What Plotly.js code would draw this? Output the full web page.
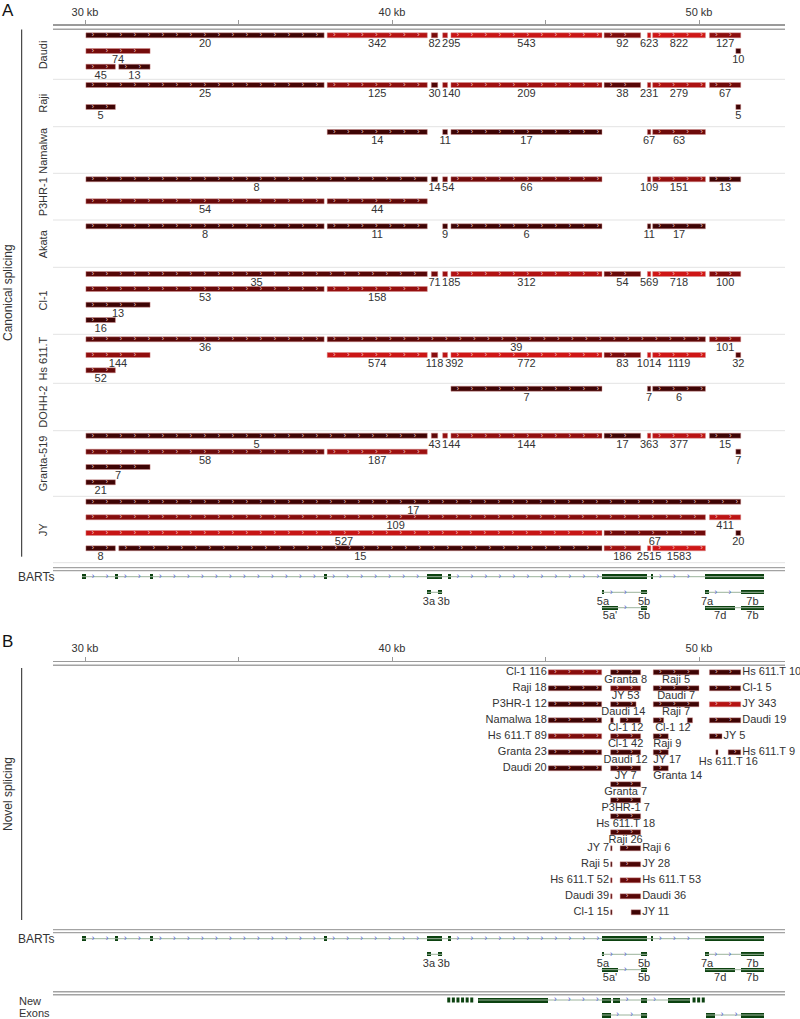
<!DOCTYPE html>
<html>
<head>
<meta charset="utf-8">
<script src="https://cdn.plot.ly/plotly-3.0.1.min.js"></script>
<style>html,body{margin:0;padding:0;background:#fff}#chart{width:800px;height:1019px}</style>
</head>
<body>
<div id="chart"></div>
<script>
// ================= DATA =================
const cellLines = ["Daudi","Raji","Namalwa","P3HR-1","Akata","Cl-1","Hs 611.T","DOHH-2","Granta-519","JY"];

// canonical junctions: [start kb, end kb, read count, sub-track]
const daudi = [[30.03,37.79,20,0],[37.89,41.15,342,0],[41.28,41.49,82,0],[41.65,41.81,295,0],[41.92,46.84,543,0],[46.91,48.10,92,0],[48.32,48.43,623,0],[48.49,50.21,822,0],[50.34,51.36,127,0],
  [30.03,32.12,74,1],[51.20,51.36,10,1],[30.03,30.99,45,2],[31.10,32.12,13,2]];
const raji = [[30.03,37.79,25,0],[37.89,41.15,125,0],[41.28,41.49,30,0],[41.65,41.81,140,0],[41.92,46.84,209,0],[46.91,48.10,38,0],[48.32,48.43,231,0],[48.49,50.21,279,0],[50.34,51.36,67,0],
  [30.03,30.99,5,1],[51.20,51.36,5,1]];
const namalwa = [[37.89,41.15,14,0],[41.65,41.81,11,0],[41.92,46.84,17,0],[48.32,48.43,67,0],[48.49,50.21,63,0]];
const p3hr1 = [[30.03,41.15,8,0],[41.28,41.49,14,0],[41.65,41.81,54,0],[41.92,46.84,66,0],[48.32,48.43,109,0],[48.49,50.21,151,0],[50.34,51.36,13,0],
  [30.03,37.79,54,1],[37.89,41.15,44,1]];
const akata = [[30.03,37.79,8,0],[37.89,41.15,11,0],[41.65,41.81,9,0],[41.92,46.84,6,0],[48.32,48.43,11,0],[48.49,50.21,17,0]];
const cl1 = [[30.03,41.15,35,0],[41.28,41.49,71,0],[41.65,41.81,185,0],[41.92,46.84,312,0],[46.91,48.10,54,0],[48.32,48.43,569,0],[48.49,50.21,718,0],[50.34,51.36,100,0],
  [30.03,37.79,53,1],[37.89,41.15,158,1],[30.03,32.12,13,2],[30.03,30.99,16,3]];
const hs611t = [[30.03,37.79,36,0],[37.89,50.21,39,0],[50.34,51.36,101,0],
  [30.03,32.12,144,1],[37.89,41.15,574,1],[41.28,41.49,118,1],[41.65,41.81,392,1],[41.92,46.84,772,1],[46.91,48.10,83,1],[48.32,48.43,1014,1],[48.49,50.21,1119,1],[51.20,51.36,32,1],
  [30.03,30.99,52,2]];
const dohh2 = [[41.92,46.84,7,0],[48.32,48.43,7,0],[48.49,50.21,6,0]];
const granta519 = [[30.03,41.15,5,0],[41.28,41.49,43,0],[41.65,41.81,144,0],[41.92,46.84,144,0],[46.91,48.10,17,0],[48.32,48.43,363,0],[48.49,50.21,377,0],[50.34,51.36,15,0],
  [30.03,37.79,58,1],[37.89,41.15,187,1],[51.20,51.36,7,1],[30.03,32.12,7,2],[30.03,30.99,21,3]];
const jy = [[30.03,51.36,17,0],[30.03,50.21,109,1],[50.34,51.36,411,1],[30.03,46.84,527,2],[46.91,50.21,67,2],[51.20,51.36,20,2],
  [30.03,30.99,8,3],[31.10,46.84,15,3],[46.91,48.10,186,3],[48.32,48.43,2515,3],[48.49,50.21,1583,3]];
const canonical = [daudi, raji, namalwa, p3hr1, akata, cl1, hs611t, dohh2, granta519, jy];

// novel junctions: [start kb, end kb, row, cell line, count, label side]
const novelJunctions = [
  [45.09,46.83,0,"Cl-1",116,"left"],[47.12,48.10,0,"Granta",8,"below"],[48.51,50.00,0,"Raji",5,"below"],[50.34,51.36,0,"Hs 611.T",10,"right"],
  [45.09,46.83,1,"Raji",18,"left"],[47.12,48.10,1,"JY",53,"below"],[48.51,50.00,1,"Daudi",7,"below"],[50.34,51.36,1,"Cl-1",5,"right"],
  [45.09,46.83,2,"P3HR-1",12,"left"],[47.12,47.95,2,"Daudi",14,"below"],[48.51,50.00,2,"Raji",7,"below"],[50.34,51.36,2,"JY",343,"right"],
  [45.09,46.83,3,"Namalwa",18,"left"],[47.12,47.21,3,"Cl-1",12,"below"],[47.43,48.10,3,"Cl-1",12,"cont"],[48.51,48.85,3,"Cl-1",12,"below"],[49.62,49.79,3,"Cl-1",12,"cont"],[50.34,51.36,3,"Daudi",19,"right"],
  [45.09,46.83,4,"Hs 611.T",89,"left"],[47.12,48.10,4,"Cl-1",42,"below"],[48.51,49.00,4,"Raji",9,"belowstart"],[50.34,50.75,4,"JY",5,"right"],
  [45.09,46.83,5,"Granta",23,"left"],[47.12,48.10,5,"Daudi",12,"below"],[48.51,49.00,5,"JY",17,"belowstart"],[50.55,50.62,5,"Hs 611.T",16,"belowspan"],[50.95,51.36,5,"Hs 611.T",9,"right"],
  [45.09,46.83,6,"Daudi",20,"left"],[47.12,48.10,6,"JY",7,"below"],[48.51,49.00,6,"Granta",14,"belowstart"],
  [47.12,48.10,7,"Granta",7,"below"],
  [47.12,48.10,8,"P3HR-1",7,"below"],
  [47.12,48.10,9,"Hs 611.T",18,"below"],
  [47.12,48.10,10,"Raji",26,"below"],
  [47.12,47.17,11,"JY",7,"left"],[47.43,48.10,11,"Raji",6,"right"],
  [47.12,47.17,12,"Raji",5,"left"],[47.43,48.10,12,"JY",28,"right"],
  [47.12,47.17,13,"Hs 611.T",52,"left"],[47.43,48.10,13,"Hs 611.T",53,"right"],
  [47.12,47.17,14,"Daudi",39,"left"],[47.43,48.10,14,"Daudi",36,"right"],
  [47.12,47.17,15,"Cl-1",15,"left"],[47.79,48.10,15,"JY",11,"right"]
];

// BART exons (kb)
const bartExons = [[29.90,30.03],[30.98,31.08],[32.12,32.22],[37.79,37.87],[41.13,41.64],[41.81,41.91],[46.83,48.32],[48.43,48.51],[50.21,52.12]];
const bartIsoRow1 = [[[41.15,41.26],[41.50,41.64]],[[46.83,46.91],[48.10,48.32]],[[50.21,50.32],[51.36,52.12]]];
const bartIsoRow1Names = [["3a","3b"],["5a","5b"],["7a","7b"]];
const bartIsoRow2 = [[[46.83,47.37],[48.10,48.32]],[[50.21,51.17],[51.36,52.12]]];
const bartIsoRow2Names = [["5a'","5b"],["7d","7b"]];
// new exons
const newExonRow1 = [[42.81,45.09],[46.83,47.12],[47.21,47.43],[48.10,48.32],[49.00,49.71]];
const newExonRow1Dotted = [[41.80,42.70],[49.79,50.23]];
const newExonRow2 = [[[46.83,47.12],[48.10,48.32]],[[50.23,50.52],[51.36,52.12]]];

const rulerTicks = [30,35,40,45,50];
const rulerLabels = ["30 kb","","40 kb","","50 kb"];

// ================= LAYOUT HELPERS =================
const PXKB = 30.7, X0PX = 85, X0KB = 30;
const kbAt = px => X0KB + (px - X0PX) / PXKB;
const pxAt = kb => X0PX + (kb - X0KB) * PXKB;
const kbLen = px => px / PXKB;
const FONT = "Liberation Sans, Arial, sans-serif";

const trackY = [[35.3,51,66.7],[85,107],[132],[179.3,201.3],[226.3],[274,289,304.7,320],[339.3,355,370.3],[388.7],[435.7,451.7,467,482.3],[501.7,517.3,533,548.3]];
const sectionBounds = [30,79.3,126.7,173.3,220,267.3,334.3,383.3,430.7,496.3,562.7];
const novelRowY = r => 672.3 + 16 * r;
const B_SHIFT = 362;

function junctionColor(c){
  let t = (Math.log10(c) - 1.3) / 1.5; t = Math.max(0, Math.min(1, t));
  return `rgb(${Math.round(62 + t*145)},${Math.round(4 + t*18)},${Math.round(4 + t*18)})`;
}

const barY=[], barBase=[], barLen=[], barCol=[];
const chevX=[], chevY=[];
const numX=[], numY=[], numT=[];
function addChevrons(s,e,y,xs,ys){
  const step=kbLen(14), stop=e-kbLen(3);
  for(let x=s+kbLen(7); x<=stop; x+=step){ xs.push(x); ys.push(y); }
}
function addBar(s,e,y,c){
  barY.push(y); barBase.push(s); barLen.push(e-s); barCol.push(junctionColor(c));
  addChevrons(s,e,y,chevX,chevY);
}
// non-overlapping centred labels along a row (pixel widths estimated)
function placeLabels(items, charW, gap){
  let lastRight=-1e9;
  return items.map(it=>{
    const w = it.text.length*charW;
    let cx = it.cx;
    if(cx - w/2 < lastRight + gap) cx = lastRight + gap + w/2;
    lastRight = cx + w/2;
    return cx;
  });
}

// Panel A
canonical.forEach((rows,ci)=>{
  rows.forEach(r=>addBar(r[0],r[1],trackY[ci][r[3]],r[2]));
  for(let t=0;t<trackY[ci].length;t++){
    const sel = rows.filter(r=>r[3]===t).sort((a,b)=>a[0]-b[0]);
    const items = sel.map(r=>({text:String(r[2]), cx:(pxAt(r[0])+pxAt(r[1]))/2}));
    placeLabels(items, 6.1, 1.5).forEach((cx,k)=>{ numX.push(kbAt(cx)); numY.push(trackY[ci][t]+9.3); numT.push(items[k].text); });
  }
});

// Panel B
const nlX=[], nlY=[], nlT=[], nlPos=[];
for(let i=0;i<novelJunctions.length;i++){
  const [s,e,row,name,c,side] = novelJunctions[i];
  const y = novelRowY(row);
  addBar(s,e,y,c);
  const txt = name+" "+c;
  if(side==="left"){ nlX.push(s-kbLen(1.5)); nlY.push(y); nlT.push(txt); nlPos.push("middle left"); }
  else if(side==="right"){ nlX.push(e+kbLen(1.5)); nlY.push(y); nlT.push(txt); nlPos.push("middle right"); }
  else if(side==="belowstart"){ nlX.push(s); nlY.push(y+8); nlT.push(txt); nlPos.push("middle right"); }
  else if(side==="belowspan"){ nlX.push((s+novelJunctions[i+1][1])/2); nlY.push(y+9.5); nlT.push(txt); nlPos.push("middle center"); }
  else if(side==="below"){
    let ge=e, j=i+1;
    while(j<novelJunctions.length && novelJunctions[j][5]==="cont"){ ge=novelJunctions[j][1]; j++; }
    nlX.push((s+ge)/2); nlY.push(y+8); nlT.push(txt); nlPos.push("middle center");
  }
}

// Gene models
const exY=[], exBase=[], exLen=[], exW=[];
const lineX=[], lineY=[], arrX=[], arrY=[];
const lblX=[], lblY=[], lblT=[];
function addModel(exons,y,h){
  exons.forEach(ex=>{ exY.push(y); exBase.push(ex[0]); exLen.push(ex[1]-ex[0]); exW.push(h); });
  lineX.push(exons[0][0], exons[exons.length-1][1], null); lineY.push(y,y,null);
  for(let k=0;k<exons.length-1;k++){
    const s=exons[k][1], e=exons[k+1][0];
    const stop=e-kbLen(4);
    for(let x=s+kbLen(7); x<=stop; x+=kbLen(14)){ arrX.push(x); arrY.push(y); }
  }
}
function addModelLabels(models, names, y){
  const items=[];
  models.forEach((m,k)=>m.forEach((ex,q)=>items.push({text:names[k][q], cx:(pxAt(ex[0])+pxAt(ex[1]))/2})));
  placeLabels(items, 6.1, 2.5).forEach((cx,k)=>{ lblX.push(kbAt(cx)); lblY.push(y); lblT.push(items[k].text); });
}
[0, B_SHIFT].forEach(sh=>{
  addModel(bartExons, 576.7+sh, 5);
  bartIsoRow1.forEach(m=>addModel(m, 592.3+sh, 4));
  addModelLabels(bartIsoRow1, bartIsoRow1Names, 601.9+sh);
  bartIsoRow2.forEach(m=>addModel(m, 607.7+sh, 4));
  addModelLabels(bartIsoRow2, bartIsoRow2Names, 616.5+sh);
});
addModel(newExonRow1, 1000, 5);
newExonRow2.forEach(m=>addModel(m, 1015, 5));
const dotX=[], dotY=[];
newExonRow1Dotted.forEach(d=>{ dotX.push(d[0],d[1],null); dotY.push(1000,1000,null); });

// ================= TRACES =================
const traces = [
  {type:"scatter", x:lineX, y:lineY, mode:"lines", line:{color:"#9cb39c", width:1}, hoverinfo:"skip", connectgaps:false},
  {type:"scatter", x:dotX, y:dotY, mode:"lines", line:{color:"#0c4210", width:5, dash:"3px,1.6px"}, hoverinfo:"skip"},
  {type:"bar", orientation:"h", y:exY, base:exBase, x:exLen, width:exW, marker:{color:"#0c4210", line:{width:0}}, hoverinfo:"skip"},
  {type:"scatter", x:arrX, y:arrY, mode:"text", text:arrX.map(()=>"›"), textfont:{size:9, color:"#4f5fd6", family:FONT}, textposition:"middle center", hoverinfo:"skip", cliponaxis:false},
  {type:"bar", orientation:"h", y:barY, base:barBase, x:barLen, width:5, marker:{color:barCol, line:{color:"rgba(215,140,140,0.75)", width:0.6}}, hoverinfo:"skip"},
  {type:"scatter", x:chevX, y:chevY, mode:"text", text:chevX.map(()=>"›"), textfont:{size:8, color:"rgba(255,215,215,0.9)", family:FONT}, textposition:"middle center", hoverinfo:"skip", cliponaxis:false},
  {type:"scatter", x:numX, y:numY, mode:"text", text:numT, textfont:{size:11, color:"#333", family:FONT}, textposition:"middle center", hoverinfo:"skip", cliponaxis:false},
  {type:"scatter", x:nlX, y:nlY, mode:"text", text:nlT, textfont:{size:11, color:"#333", family:FONT}, textposition:nlPos, hoverinfo:"skip", cliponaxis:false},
  {type:"scatter", x:lblX, y:lblY, mode:"text", text:lblT, textfont:{size:11, color:"#333", family:FONT}, textposition:"middle center", hoverinfo:"skip", cliponaxis:false},
  {type:"scatter", x:[30], y:[-50], xaxis:"x2", mode:"markers", marker:{opacity:0}, hoverinfo:"skip"}
];

// ================= DECORATION =================
const shapes = [];
const X1P = 53/800, X2P = 785/800;
const hline = (y,color,w)=>shapes.push({type:"line", xref:"paper", yref:"y", x0:X1P, x1:X2P, y0:y, y1:y, line:{color:color, width:w}});
sectionBounds.slice(1).forEach(y=>hline(y,"#e3e3e3",1));
[29.3, 567.6, 570.6, 665.3, 929.6, 932.6, 991.8, 994.8].forEach(y=>hline(y,"#a3a3a3",1.4));
shapes.push({type:"line", xref:"paper", yref:"y", x0:21.7/800, x1:21.7/800, y0:29.5, y1:556.7, line:{color:"#222", width:1}});
shapes.push({type:"line", xref:"paper", yref:"y", x0:21.7/800, x1:21.7/800, y0:668, y1:920, line:{color:"#222", width:1}});

const annotations = [];
const ann = (x,y,text,opt={})=>annotations.push(Object.assign({xref:"paper", yref:"y", x:x/800, y:y, text:text, showarrow:false,
  xanchor:"center", yanchor:"middle", font:{family:FONT, size:11, color:"#333"}}, opt));
ann(7.5, 10, "A", {font:{family:FONT, size:17, color:"#111"}});
ann(7.5, 641, "B", {font:{family:FONT, size:17, color:"#111"}});
cellLines.forEach((c,i)=>ann(42.7, (sectionBounds[i]+sectionBounds[i+1])/2, c, {textangle:-90}));
ann(8, 293, "Canonical splicing", {textangle:-90, font:{family:FONT, size:12, color:"#333"}});
ann(8, 794, "Novel splicing", {textangle:-90, font:{family:FONT, size:12, color:"#333"}});
ann(16, 577, "BARTs", {xanchor:"left", font:{family:FONT, size:12, color:"#333"}});
ann(16, 938.5, "BARTs", {xanchor:"left", font:{family:FONT, size:12, color:"#333"}});
ann(16.5, 1000.7, "New", {xanchor:"left"});
ann(16.5, 1013.3, "Exons", {xanchor:"left"});

const axisCommon = {range:[kbAt(53), kbAt(785)], domain:[53/800, 785/800], anchor:"free", side:"top", showline:true,
  linecolor:"#9a9a9a", linewidth:1.2, ticks:"outside", ticklen:4, tickwidth:1, tickcolor:"#9a9a9a",
  tickmode:"array", tickvals:rulerTicks, ticktext:rulerLabels, tickfont:{family:FONT, size:11, color:"#333"},
  showgrid:false, zeroline:false, fixedrange:true, tickangle:0, automargin:false};

const layout = {
  width:800, height:1019, margin:{l:0,r:0,t:0,b:0}, paper_bgcolor:"#fff", plot_bgcolor:"#fff",
  showlegend:false, barmode:"overlay", bargap:0,
  xaxis: Object.assign({}, axisCommon, {position:1-24.3/1019}),
  xaxis2: Object.assign({}, axisCommon, {overlaying:"x", position:1-660.5/1019}),
  yaxis: {range:[1019,0], visible:false, fixedrange:true, domain:[0,1]},
  shapes: shapes, annotations: annotations
};
Plotly.newPlot("chart", traces, layout, {staticPlot:true, displayModeBar:false});
</script>
</body>
</html>
